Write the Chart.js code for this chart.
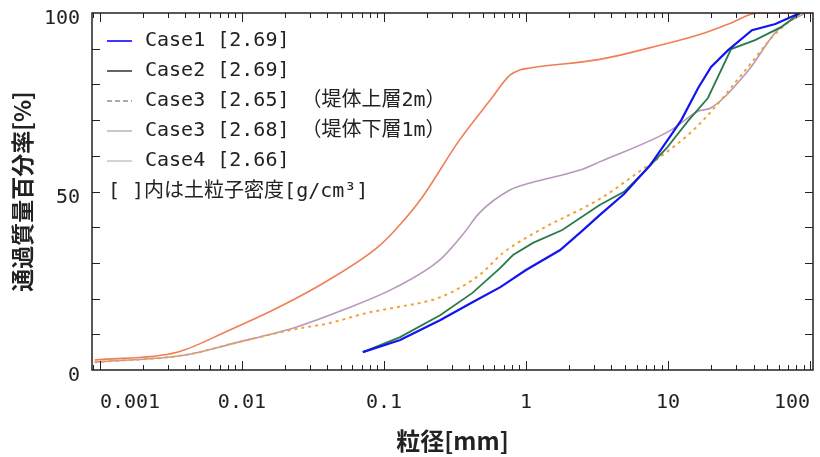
<!DOCTYPE html>
<html>
<head>
<meta charset="utf-8">
<script src="https://cdn.jsdelivr.net/npm/chart.js@4.4.1/dist/chart.umd.min.js"></script>
<style>
  html, body { margin: 0; background: #fff; }
</style>
</head>
<body>
<canvas id="grading" width="820" height="457"></canvas>
<script>
// grain size [mm] vs percent passing [%]
const case1Size = [0.071, 0.13, 0.25, 0.42, 0.66, 1.0, 1.74, 2.52, 3.3, 4.9, 7.5, 10.5, 12.4, 16.3, 20.1, 26.5, 39, 57, 85];
const case1Pass = [5.0, 8.4, 14.0, 19.0, 23.2, 28.0, 33.6, 39.2, 43.4, 49.3, 57.4, 65.8, 70.0, 79.0, 84.9, 89.6, 95.2, 96.9, 100];

const case2Size = [0.071, 0.13, 0.25, 0.42, 0.66, 0.81, 1.12, 1.8, 3.3, 4.9, 6.8, 9.8, 13.8, 19.1, 27.8, 41, 63, 85];
const case2Pass = [5.0, 9.2, 15.4, 21.6, 28.6, 32.2, 35.6, 39.2, 46.2, 49.9, 55.5, 62.2, 69.7, 76.2, 89.9, 92.4, 96.1, 100];

const case3uSize = [0.00092, 0.004, 0.009, 0.024, 0.04, 0.076, 0.12, 0.25, 0.47, 0.69, 1.25, 3.3, 5.8, 13.8, 19.1, 36.6, 56.7, 85];
const case3uPass = [2.2, 4.2, 7.6, 11.5, 13.0, 16.0, 17.5, 20.4, 26.6, 32.8, 39.2, 47.9, 54.6, 65.8, 71.4, 84.9, 94.1, 100];

const case3lSize = [0.00092, 0.004, 0.009, 0.024, 0.053, 0.119, 0.25, 0.36, 0.47, 0.77, 1.07, 2.4, 3.3, 10.5, 16.3, 20, 36.6, 59, 92];
const case3lPass = [2.2, 4.2, 7.6, 12.0, 17.0, 23.0, 31.0, 38.0, 44.0, 50.4, 52.4, 56.0, 58.3, 67.2, 72.5, 73.4, 83.8, 95.2, 100];

const case4Size = [0.00092, 0.0035, 0.008, 0.018, 0.04, 0.091, 0.12, 0.18, 0.34, 0.56, 0.77, 0.9, 1.07, 3.3, 7.5, 16.7, 27, 43, 105];
const case4Pass = [2.8, 5.0, 11.0, 17.5, 25.0, 34.5, 39.2, 47.6, 64.4, 75.6, 82.6, 84.0, 84.6, 87.0, 90.3, 94.0, 97.0, 100, 100];

const seriesLabels = [
  'Case1 [2.69]',
  'Case2 [2.69]',
  'Case3 [2.65] （堤体上層2m）',
  'Case3 [2.68] （堤体下層1m）',
  'Case4 [2.66]'
];
const legendNote = '[ ]内は土粒子密度[g/cm³]';

const sizeTicks = [0.001, 0.01, 0.1, 1, 10, 100];
const sizeTickLabels = ['0.001', '0.01', '0.1', '1', '10', '100'];
const passTicks = [0, 50, 100];

const toPoints = (xs, ys) => xs.map((v, i) => ({ x: v, y: ys[i] }));

const monoFont = '"DejaVu Sans Mono", "Noto Sans CJK JP", monospace';
const jpFont = '"Noto Sans CJK JP", sans-serif';

// frame with inward ticks on all four sides, plus the boxed-in legend
const frameAndLegend = {
  id: 'frameAndLegend',
  afterDraw(chart) {
    const { ctx, chartArea: a, scales: { x, y } } = chart;
    ctx.save();
    ctx.strokeStyle = '#222';
    ctx.lineWidth = 1.5;
    ctx.strokeRect(a.left, a.top, a.right - a.left, a.bottom - a.top);

    ctx.lineWidth = 1;
    ctx.beginPath();
    for (let e = -4; e <= 2; e++) {
      for (let m = 1; m <= 9; m++) {
        const v = m * Math.pow(10, e);
        if (v < x.min || v > x.max) continue;
        const px = Math.round(x.getPixelForValue(v)) + 0.5;
        const len = m === 1 ? 9 : 5;
        ctx.moveTo(px, a.bottom); ctx.lineTo(px, a.bottom - len);
        ctx.moveTo(px, a.top); ctx.lineTo(px, a.top + len);
      }
    }
    for (let v = 10; v < 100; v += 10) {
      const py = Math.round(y.getPixelForValue(v)) + 0.5;
      ctx.moveTo(a.left, py); ctx.lineTo(a.left + 8, py);
      ctx.moveTo(a.right, py); ctx.lineTo(a.right - 8, py);
    }
    ctx.stroke();

    // legend
    ctx.font = '20px ' + monoFont;
    ctx.textBaseline = 'middle';
    ctx.fillStyle = '#222';
    chart.data.datasets.forEach((ds, i) => {
      const ry = a.top + 28 + i * 30;
      ctx.strokeStyle = ds.legendColor;
      ctx.lineWidth = 2;
      ctx.setLineDash(ds.legendDash || []);
      ctx.beginPath();
      ctx.moveTo(a.left + 15, ry);
      ctx.lineTo(a.left + 40, ry);
      ctx.stroke();
      ctx.setLineDash([]);
      ctx.fillText(ds.label, a.left + 53, ry);
    });
    ctx.fillText(legendNote, a.left + 16, a.top + 179);
    ctx.restore();
  }
};

new Chart(document.getElementById('grading'), {
  type: 'scatter',
  data: {
    datasets: [
      {
        label: seriesLabels[0],
        data: toPoints(case1Size, case1Pass),
        borderColor: '#1414f0',
        legendColor: '#3a3aff',
        borderWidth: 2.2
      },
      {
        label: seriesLabels[1],
        data: toPoints(case2Size, case2Pass),
        borderColor: '#2a7a4c',
        legendColor: '#666',
        borderWidth: 1.8
      },
      {
        label: seriesLabels[2],
        data: toPoints(case3uSize, case3uPass),
        borderColor: '#f0a436',
        legendColor: '#aaa',
        legendDash: [5, 3],
        borderDash: [3, 4],
        borderWidth: 2,
        cubicInterpolationMode: 'monotone'
      },
      {
        label: seriesLabels[3],
        data: toPoints(case3lSize, case3lPass),
        borderColor: '#b898bc',
        legendColor: '#c8c8c8',
        borderWidth: 1.6,
        cubicInterpolationMode: 'monotone'
      },
      {
        label: seriesLabels[4],
        data: toPoints(case4Size, case4Pass),
        borderColor: '#f07e56',
        legendColor: '#d4d4d4',
        borderWidth: 1.6,
        cubicInterpolationMode: 'monotone'
      }
    ]
  },
  options: {
    responsive: false,
    animation: false,
    showLine: true,
    elements: { point: { radius: 0 } },
    layout: { padding: { top: 13, right: 7, bottom: 0, left: 0 } },
    plugins: { legend: { display: false }, tooltip: { enabled: false } },
    scales: {
      x: {
        type: 'logarithmic',
        min: 0.00088,
        max: 104.9,
        afterBuildTicks: s => { s.ticks = sizeTicks.map(v => ({ value: v })); },
        afterFit: s => {
          s.height = 87;
          s.paddingLeft = 0;
          s.paddingRight = 0;
        },
        grid: { display: false },
        border: { display: false },
        ticks: {
          align: 'inner',
          padding: 13,
          maxRotation: 0,
          autoSkip: false,
          color: '#222',
          font: { family: monoFont, size: 20 },
          callback: v => sizeTickLabels[sizeTicks.indexOf(v)]
        },
        title: {
          display: true,
          text: '粒径[mm]',
          color: '#222',
          font: { family: jpFont, size: 24, weight: 'bold' },
          padding: { top: 0, bottom: 2 }
        }
      },
      y: {
        min: 0,
        max: 100,
        afterBuildTicks: s => { s.ticks = passTicks.map(v => ({ value: v })); },
        afterFit: s => {
          s.width = 92;
          s.paddingTop = 0;
          s.paddingBottom = 0;
        },
        grid: { display: false },
        border: { display: false },
        ticks: {
          padding: 4,
          labelOffset: 6,
          color: '#222',
          font: { family: monoFont, size: 20 }
        },
        title: {
          display: true,
          text: '通過質量百分率[%]',
          color: '#222',
          font: { family: jpFont, size: 23, weight: 'bold' },
          padding: { top: 8, bottom: 0 }
        }
      }
    }
  },
  plugins: [frameAndLegend]
});
</script>
</body>
</html>
